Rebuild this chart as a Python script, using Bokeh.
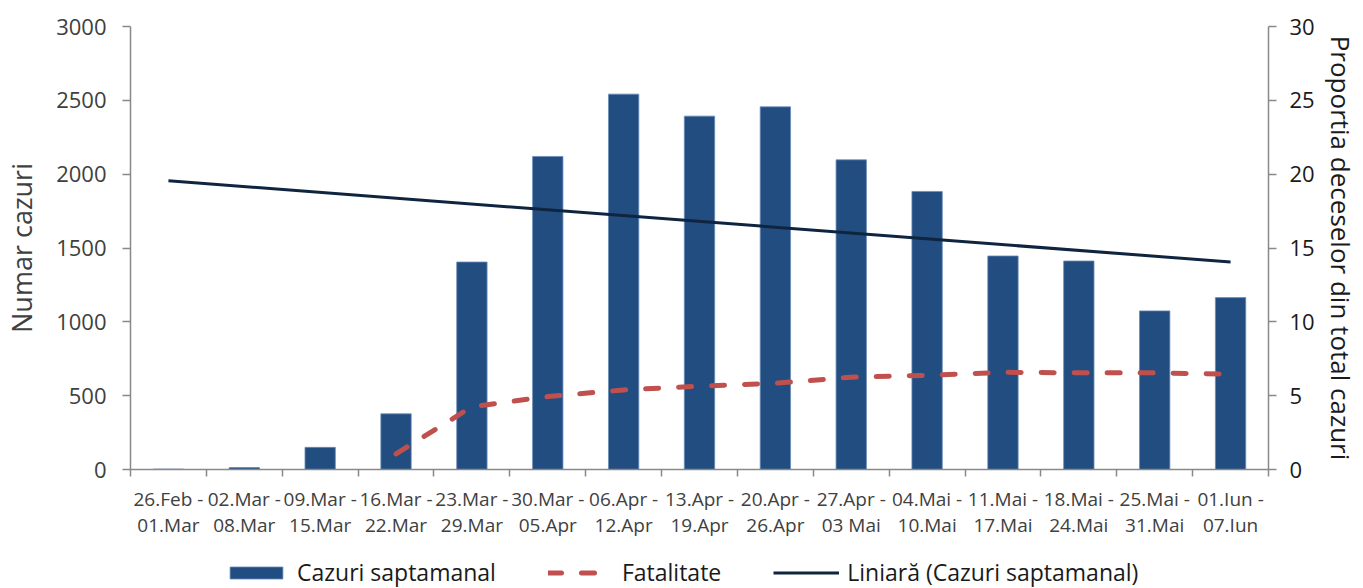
from bokeh.plotting import figure
from bokeh.layouts import column
from bokeh.models import Range1d, LinearAxis, FixedTicker, Legend, LegendItem, ColumnDataSource
from bokeh.embed import file_html
from bokeh.resources import INLINE

# ---------------- data ----------------
weeks = ["26.Feb -\n01.Mar", "02.Mar -\n08.Mar", "09.Mar -\n15.Mar", "16.Mar -\n22.Mar",
         "23.Mar -\n29.Mar", "30.Mar -\n05.Apr", "06.Apr -\n12.Apr", "13.Apr -\n19.Apr",
         "20.Apr -\n26.Apr", "27.Apr -\n03 Mai", "04.Mai -\n10.Mai", "11.Mai -\n17.Mai",
         "18.Mai -\n24.Mai", "25.Mai -\n31.Mai", "01.Iun -\n07.Iun"]
cases = [3, 13, 150, 377, 1405, 2120, 2542, 2393, 2456, 2097, 1883, 1446, 1412, 1074, 1164]
fatality = [float("nan"), float("nan"), float("nan"), 1.06, 4.25, 4.94, 5.39, 5.64,
            5.84, 6.25, 6.38, 6.58, 6.55, 6.55, 6.45]
trend = [1955, 1405]          # linear trend value at first and last week
left_ticks = [0, 500, 1000, 1500, 2000, 2500, 3000]
right_ticks = [0, 5, 10, 15, 20, 25, 30]
legend_labels = ["Cazuri saptamanal", "Fatalitate", "Liniară (Cazuri saptamanal)"]

FONT = "Open Sans"
AXIS_COL = "#898989"
BAR_FILL, BAR_LINE = "#224D80", "#6A8BB8"
FAT_COL, TREND_COL = "#C0504D", "#0F243E"
FAT_DASH = "13 20"

xs = [i + 0.5 for i in range(len(weeks))]
src = ColumnDataSource(dict(x=xs, cases=cases, fat=fatality))

p = figure(width=1363, height=550, output_backend="svg", toolbar_location=None,
           x_range=Range1d(0, len(weeks)), y_range=Range1d(0, 3000),
           min_border_left=129, min_border_right=95, min_border_top=26, min_border_bottom=81)
p.outline_line_color = None
p.xgrid.grid_line_color = None
p.ygrid.grid_line_color = None
p.extra_y_ranges = {"pct": Range1d(0, 30)}

p.vbar(x="x", top="cases", width=0.4, source=src,
       fill_color=BAR_FILL, line_color=BAR_LINE, line_width=0.8)
p.line(x="x", y="fat", source=src, y_range_name="pct", line_color=FAT_COL,
       line_width=5, line_dash=FAT_DASH, line_cap="round")
p.line(x=[xs[0], xs[-1]], y=trend, line_color=TREND_COL, line_width=3)

# x axis
xa = p.xaxis[0]
xa.ticker = FixedTicker(ticks=xs, minor_ticks=list(range(len(weeks) + 1)))
xa.major_label_overrides = {x: w for x, w in zip(xs, weeks)}
xa.major_tick_out = 0
xa.major_tick_in = 0
xa.minor_tick_out = 7
xa.minor_tick_in = 0
xa.minor_tick_line_color = AXIS_COL
xa.minor_tick_line_width = 1.5
xa.axis_line_color = AXIS_COL
xa.axis_line_width = 1.5
xa.major_label_text_font = FONT
xa.major_label_text_font_size = "19px"
xa.major_label_text_color = "#404040"
xa.major_label_text_line_height = 1.0
xa.major_label_standoff = 9

# left axis
ya = p.yaxis[0]
ya.ticker = FixedTicker(ticks=left_ticks)
ya.minor_tick_line_color = None
ya.major_tick_out = 8
ya.major_tick_in = 0
ya.major_tick_line_color = AXIS_COL
ya.major_tick_line_width = 1.5
ya.axis_line_color = AXIS_COL
ya.axis_line_width = 1.5
ya.major_label_text_font = FONT
ya.major_label_text_font_size = "22px"
ya.major_label_text_color = "#404040"
ya.major_label_standoff = 16
ya.axis_label = "Numar cazuri"
ya.axis_label_text_font = FONT
ya.axis_label_text_font_size = "27px"
ya.axis_label_text_font_style = "normal"
ya.axis_label_text_color = "#404040"
ya.axis_label_standoff = 13

# right axis
ra = LinearAxis(y_range_name="pct", ticker=FixedTicker(ticks=right_ticks))
ra.minor_tick_line_color = None
ra.major_tick_out = 8
ra.major_tick_in = 0
ra.major_tick_line_color = AXIS_COL
ra.major_tick_line_width = 1.5
ra.axis_line_color = AXIS_COL
ra.axis_line_width = 1.5
ra.major_label_text_font = FONT
ra.major_label_text_font_size = "22px"
ra.major_label_text_color = "#1a1a1a"
ra.major_label_standoff = 13
ra.axis_label = "Proportia deceselor din total cazuri"
ra.axis_label_text_font = FONT
ra.axis_label_text_font_size = "26px"
ra.axis_label_text_font_style = "normal"
ra.axis_label_text_color = "#1a1a1a"
ra.axis_label_standoff = 5
p.add_layout(ra, "right")

# ---------------- legend strip ----------------
lg = figure(width=1363, height=38, output_backend="svg", toolbar_location=None,
            x_range=Range1d(0, 1), y_range=Range1d(0, 1),
            x_axis_type=None, y_axis_type=None, min_border=0)
lg.outline_line_color = None
lg.xgrid.grid_line_color = None
lg.ygrid.grid_line_color = None
# stand-in renderers (points kept outside the visible range) so the legend can draw its swatches
hidden = ColumnDataSource(dict(x=[-5.0, -4.0], y=[-5.0, -4.0]))
r_bar = lg.vbar(x="x", top="y", width=0.4, source=hidden,
                fill_color=BAR_FILL, line_color=BAR_LINE, line_width=0.8)
r_fat = lg.line(x="x", y="y", source=hidden, line_color=FAT_COL, line_width=5,
                line_dash=FAT_DASH, line_cap="round")
r_tr = lg.line(x="x", y="y", source=hidden, line_color=TREND_COL, line_width=3)

legend = Legend(items=[LegendItem(label=legend_labels[0], renderers=[r_bar]),
                       LegendItem(label=legend_labels[1], renderers=[r_fat]),
                       LegendItem(label=legend_labels[2], renderers=[r_tr])],
                orientation="horizontal", location=(93, 0))
legend.padding = 0
legend.margin = 0
legend.spacing = 52
legend.label_standoff = 8
legend.glyph_width = 66
legend.glyph_height = 15
legend.label_text_font = FONT
legend.label_text_font_size = "23px"
legend.label_text_color = "#1a1a1a"
legend.border_line_color = None
legend.background_fill_alpha = 0
lg.add_layout(legend)

page = column(p, lg, spacing=0)
open("out.html", "w").write(file_html(page, INLINE))
